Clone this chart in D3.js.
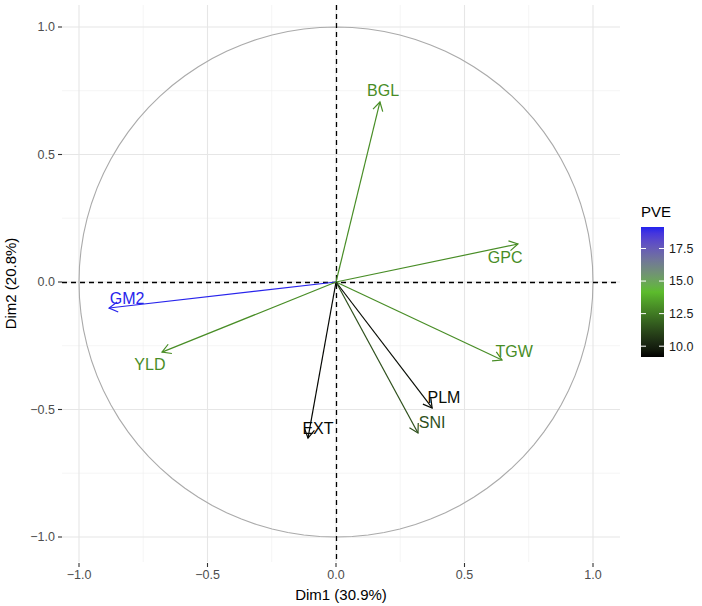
<!DOCTYPE html>
<html><head><meta charset="utf-8">
<script src="https://cdn.jsdelivr.net/npm/d3@7"></script>
<style>body{margin:0;background:#fff;} svg{display:block;font-family:"Liberation Sans",Arial,sans-serif;}</style>
</head><body><svg id="c" width="702" height="606"></svg>
<script>
const variables = ["BGL","GPC","TGW","PLM","SNI","EXT","GM2","YLD"];
const dim1 = [0.171, 0.708, 0.646, 0.374, 0.319, -0.109, -0.883, -0.677];
const dim2 = [0.706, 0.149, -0.306, -0.494, -0.592, -0.612, -0.102, -0.275];
const pve = [13.0, 13.0, 13.0, 9.4, 11.4, 9.3, 19.1, 13.0];
const labelDim1 = [0.183, 0.658, 0.693, 0.420, 0.374, -0.070, -0.813, -0.724];
const labelDim2 = [0.753, 0.098, -0.271, -0.451, -0.549, -0.573, -0.063, -0.322];
const axisTicks = [-1.0, -0.5, 0.0, 0.5, 1.0];
const minorTicks = [-0.75, -0.25, 0.25, 0.75];
const legendTicks = [10.0, 12.5, 15.0, 17.5];
const pveRange = [9.17, 19.15];
const xTitle = "Dim1 (30.9%)", yTitle = "Dim2 (20.8%)", legendTitle = "PVE";

const svg = d3.select("#c");
const x = d3.scaleLinear().domain([-1, 1]).range([79, 593]);
const y = d3.scaleLinear().domain([-1, 1]).range([537, 27]);
const px0 = 62, px1 = 620, py0 = 5, py1 = 562;
const mid = (pveRange[0] + pveRange[1]) / 2;
const color = d3.scaleLinear().domain([pveRange[0], mid, pveRange[1]])
  .range(["#000000", "#5cbc2c", "#2222ee"]).interpolate(d3.interpolateLab);

// grid
const g = svg.append("g");
minorTicks.forEach(t => {
  g.append("line").attr("x1", x(t)).attr("x2", x(t)).attr("y1", py0).attr("y2", py1).attr("stroke", "#efefef").attr("stroke-width", 0.6);
  g.append("line").attr("y1", y(t)).attr("y2", y(t)).attr("x1", px0).attr("x2", px1).attr("stroke", "#efefef").attr("stroke-width", 0.6);
});
axisTicks.forEach(t => {
  g.append("line").attr("x1", x(t)).attr("x2", x(t)).attr("y1", py0).attr("y2", py1).attr("stroke", "#e6e6e6").attr("stroke-width", 1.1);
  g.append("line").attr("y1", y(t)).attr("y2", y(t)).attr("x1", px0).attr("x2", px1).attr("stroke", "#e6e6e6").attr("stroke-width", 1.1);
});

// circle
const circ = d3.range(0, 101).map(i => { const a = i / 100 * 2 * Math.PI; return [Math.cos(a), Math.sin(a)]; });
svg.append("path").attr("d", d3.line().x(d => x(d[0])).y(d => y(d[1]))(circ))
  .attr("fill", "none").attr("stroke", "#aaaaaa").attr("stroke-width", 1.1);

// dashed axes
svg.append("line").attr("x1", Math.round(x(0)) + 0.5).attr("x2", Math.round(x(0)) + 0.5).attr("y1", py0).attr("y2", py1).attr("stroke", "#000").attr("stroke-dasharray", "5,4").attr("stroke-width", 1.3);
svg.append("line").attr("y1", Math.round(y(0)) + 0.5).attr("y2", Math.round(y(0)) + 0.5).attr("x1", px0).attr("x2", px1).attr("stroke", "#000").attr("stroke-dasharray", "5,4").attr("stroke-width", 1.3);

// arrows
variables.forEach((v, i) => {
  const c = color(pve[i]);
  const x0 = x(0), y0 = y(0), x1 = x(dim1[i]), y1 = y(dim2[i]);
  svg.append("line").attr("x1", x0).attr("y1", y0).attr("x2", x1).attr("y2", y1).attr("stroke", c).attr("stroke-width", 1.2);
  const ang = Math.atan2(y1 - y0, x1 - x0), L = 10, sp = Math.PI / 6;
  const p = [[x1 - L * Math.cos(ang - sp), y1 - L * Math.sin(ang - sp)], [x1, y1], [x1 - L * Math.cos(ang + sp), y1 - L * Math.sin(ang + sp)]];
  svg.append("path").attr("d", d3.line()(p)).attr("fill", "none").attr("stroke", c).attr("stroke-width", 1.2);
  svg.append("text").attr("x", x(labelDim1[i])).attr("y", y(labelDim2[i])).attr("dy", "0.35em")
    .attr("text-anchor", "middle").attr("font-size", 16).attr("fill", c).text(v);
});

// axes ticks
const fmt = d3.format(".1f");
axisTicks.forEach(t => {
  svg.append("line").attr("x1", px0 - 4).attr("x2", px0).attr("y1", y(t)).attr("y2", y(t)).attr("stroke", "#333").attr("stroke-width", 1.1);
  svg.append("text").attr("x", px0 - 7).attr("y", y(t)).attr("dy", "0.35em").attr("text-anchor", "end").attr("font-size", 12.5).attr("fill", "#4d4d4d").text(fmt(t));
  svg.append("line").attr("y1", py1 + 1).attr("y2", py1 + 5).attr("x1", x(t)).attr("x2", x(t)).attr("stroke", "#333").attr("stroke-width", 1.1);
  svg.append("text").attr("x", x(t)).attr("y", py1 + 17).attr("text-anchor", "middle").attr("font-size", 12.5).attr("fill", "#4d4d4d").text(fmt(t));
});
svg.append("text").attr("x", (px0 + px1) / 2).attr("y", 600).attr("text-anchor", "middle").attr("font-size", 15).attr("fill", "#000").text(xTitle);
svg.append("text").attr("transform", `translate(16,${(py0 + py1) / 2}) rotate(-90)`).attr("text-anchor", "middle").attr("font-size", 15).attr("fill", "#000").text(yTitle);

// legend
const lx = 641, lw = 23, ly0 = 227, ly1 = 357;
const ls = d3.scaleLinear().domain(pveRange).range([ly1, ly0]);
const defs = svg.append("defs");
const grad = defs.append("linearGradient").attr("id", "gr").attr("x1", 0).attr("x2", 0).attr("y1", 1).attr("y2", 0);
d3.range(0, 21).forEach(i => {
  const v = pveRange[0] + (pveRange[1] - pveRange[0]) * i / 20;
  grad.append("stop").attr("offset", i / 20).attr("stop-color", color(v));
});
svg.append("rect").attr("x", lx).attr("y", ly0).attr("width", lw).attr("height", ly1 - ly0).attr("fill", "url(#gr)");
legendTicks.forEach(t => {
  svg.append("line").attr("x1", lx).attr("x2", lx + 5).attr("y1", ls(t)).attr("y2", ls(t)).attr("stroke", "#fff").attr("stroke-width", 1);
  svg.append("line").attr("x1", lx + lw - 5).attr("x2", lx + lw).attr("y1", ls(t)).attr("y2", ls(t)).attr("stroke", "#fff").attr("stroke-width", 1);
  svg.append("text").attr("x", lx + lw + 5).attr("y", ls(t)).attr("dy", "0.35em").attr("font-size", 12.5).attr("fill", "#1a1a1a").text(fmt(t));
});
svg.append("text").attr("x", lx).attr("y", 217).attr("font-size", 15).attr("fill", "#000").text(legendTitle);
</script></body></html>
